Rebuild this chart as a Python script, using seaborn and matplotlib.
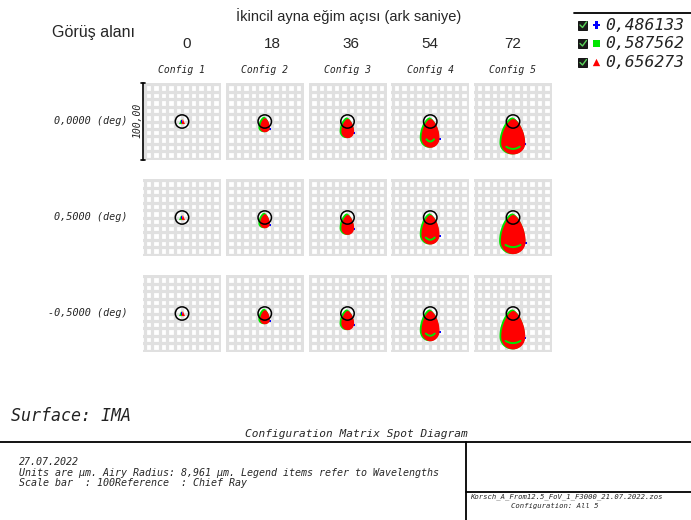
import numpy as np
import pandas as pd
import matplotlib
matplotlib.use("Agg")
import matplotlib.pyplot as plt
import seaborn as sns
from matplotlib.patches import Circle, Rectangle

# ---------------- data ----------------
fields = ["0,0000 (deg)", "0,5000 (deg)", "-0,5000 (deg)"]
tilt_arcsec = ["0", "18", "36", "54", "72"]
configs = ["Config 1", "Config 2", "Config 3", "Config 4", "Config 5"]
wavelengths = ["0,486133", "0,587562", "0,656273"]
wave_colors = ["#0000ff", "#00e600", "#ff0000"]
wave_markers = ["P", "s", "^"]

airy_radius = 8.961      # µm
scale_bar_label = "100,00"

# spot extents (µm, relative to chief ray, y up); rows = fields, cols = configs
spot_top = [[3.5, 5, 4, 4, 4],
            [3.5, 5, 4, 4, 4],
            [3.5, 5, 4, 4, 4]]
spot_waist = [[-1, -8, -13, -22, -29],
              [-1, -8, -14, -23, -32],
              [-1, -8, -13, -23, -31]]
spot_bottom = [[-4, -14, -22, -35, -44],
               [-4, -14, -23, -36, -49],
               [-4, -14, -22, -37, -48]]
spot_halfwidth = [[4, 6.5, 8.5, 12, 16],
                  [4, 6.5, 8.5, 12, 16.5],
                  [4, 6.5, 8.5, 12, 16]]
caustic_y = [[np.nan, np.nan, np.nan, -27, -37],
             [np.nan, np.nan, np.nan, -30, -40],
             [np.nan, np.nan, np.nan, -30, -40]]
caustic_w = [[0, 0, 0, 5, 9],
             [0, 0, 0, 6, 10],
             [0, 0, 0, 6, 10]]

# ---------------- style ----------------
sns.set_style("white")
plt.rcParams["font.family"] = ["DejaVu Sans"]
MONO = "DejaVu Sans Mono"
SANS = "Liberation Sans"

W, H = 691, 520
fig = plt.figure(figsize=(W / 100, H / 100), dpi=100)
fig.patch.set_facecolor("white")


def rect(x, y, w, h):
    return [x / W, 1 - (y + h) / H, w / W, h / H]


def teardrop(top, waist, bottom, w, n=60):
    yu = np.linspace(top, waist, n)
    wu = w * np.sin(np.pi / 2 * (top - yu) / (top - waist)) ** 0.6
    yl = np.linspace(waist, bottom, n)[1:]
    wl = w * np.sqrt(np.clip(1 - ((waist - yl) / (waist - bottom)) ** 2, 0, 1))
    y = np.concatenate([yu, yl])
    ww = np.concatenate([wu, wl])
    return np.concatenate([ww, -ww[::-1]]), np.concatenate([y, y[::-1]])


# overlay axes in pixel coordinates
ax0 = fig.add_axes([0, 0, 1, 1])
ax0.set_xlim(0, W)
ax0.set_ylim(H, 0)
ax0.axis("off")

cell_w, cell_h = 78, 77
col_left = 143
col_step = 82.75
row_top = 83
row_step = 96

for r in range(len(fields)):
    for c in range(len(configs)):
        ax = fig.add_axes(rect(col_left + c * col_step, row_top + r * row_step, cell_w, cell_h))
        ax.set_xlim(-52, 52)
        ax.set_ylim(-52, 52)
        ticks = np.arange(-50, 51, 10)
        ax.set_xticks(ticks)
        ax.set_yticks(ticks)
        ax.grid(True, color="#e0e0e0", linewidth=2.3)
        ax.set_axisbelow(True)
        ax.tick_params(length=0, labelbottom=False, labelleft=False)
        for s in ax.spines.values():
            s.set_visible(False)
        ax.set_facecolor("white")

        t, wa, b, hw = spot_top[r][c], spot_waist[r][c], spot_bottom[r][c], spot_halfwidth[r][c]
        if c == 0:
            ax.fill([-4.0, 0.0, -1.0], [-3.5, -3.5, 3.5], color=wave_colors[1], lw=0, zorder=2)
            ax.fill([-1.5, 0.5, 0.5, -1.5], [-2.5, -2.5, 2.0, 2.0], color=wave_colors[0],
                    lw=0, zorder=3)
            ax.fill([-0.5, 4.0, 1.0], [-3.5, -3.5, 3.5], color=wave_colors[2], lw=0, zorder=4)
        else:
            gx, gy = teardrop(t + 1.5, wa, b - 0.5, hw + 0.9)
            ax.fill(gx - 1.1, gy, color=wave_colors[1], lw=0, zorder=2)
            rx, ry = teardrop(t, wa, b, hw)
            ax.fill(rx + 0.3, ry - 0.5, color=wave_colors[2], lw=0, zorder=3)
            sns.scatterplot(x=[hw + 0.6], y=[wa - 2], color=wave_colors[0], marker="s",
                            s=3, linewidth=0, ax=ax, zorder=2, legend=False)
        cy = caustic_y[r][c]
        if not np.isnan(cy):
            cw = caustic_w[r][c]
            xs = np.linspace(-cw, cw, 30)
            ax.plot(xs, cy + 3 * (xs / cw) ** 2, color=wave_colors[1], lw=1.4, zorder=4)
        ax.add_patch(Circle((0, 0), airy_radius, fill=False, ec="black", lw=1.1, zorder=6))
        ax.set_xlabel("")
        ax.set_ylabel("")

        if r == 0 and c == 0:
            ax.plot([-52, -52], [-52, 52], color="black", lw=1.2, clip_on=False, zorder=7)
            ax.plot([-54, -50], [52, 52], color="black", lw=1.2, clip_on=False, zorder=7)
            ax.plot([-54, -50], [-52, -52], color="black", lw=1.2, clip_on=False, zorder=7)
            ax.text(-59, 2, scale_bar_label, rotation=90, ha="center", va="center",
                    family=MONO, style="italic", fontsize=7, clip_on=False)

# headers
ax0.text(52, 32, "Görüş alanı", family=SANS, fontsize=11.5, ha="left", va="center")
ax0.text(349, 16, "İkincil ayna eğim açısı (ark saniye)", family=SANS, fontsize=10.5,
         ha="center", va="center")
num_x = [187, 272, 351, 430, 513]
for c, lab in enumerate(tilt_arcsec):
    ax0.text(num_x[c], 44, lab, family=SANS, fontsize=11, ha="center", va="center")
for c, lab in enumerate(configs):
    ax0.text(col_left + c * col_step + cell_w / 2, 70, lab, family=MONO, style="italic",
             fontsize=7, ha="center", va="center")
for r, lab in enumerate(fields):
    ax0.text(128, row_top + r * row_step + 38, lab, family=MONO, style="italic",
             fontsize=7.3, ha="right", va="center")

# legend
ax0.plot([574, 691], [13, 13], color="black", lw=1.3)
leg_y = [25, 43.5, 62.5]
for i, wl in enumerate(wavelengths):
    y = leg_y[i]
    ax0.add_patch(Rectangle((578, y - 4.5), 9, 9, facecolor="#1a1a1a", edgecolor="black", lw=0.6))
    ax0.plot([580, 582.5, 586.5], [y, y + 2.5, y - 3], color="#5bd35b", lw=1.0)
    ax0.text(605, y, wl, family=MONO, style="italic", fontsize=11.8, ha="left", va="center",
             color="#222222")
leg_df = pd.DataFrame({"x": [596.5] * 3, "y": leg_y, "wl": wavelengths})
sns.scatterplot(data=leg_df, x="x", y="y", hue="wl", style="wl",
                palette=dict(zip(wavelengths, wave_colors)),
                markers=dict(zip(wavelengths, wave_markers)),
                s=[28, 22, 28], linewidth=0, legend=False, ax=ax0)
ax0.set_xlim(0, W)
ax0.set_ylim(H, 0)
ax0.axis("off")

# footer
ax0.text(11, 416, "Surface: IMA", family=MONO, style="italic", fontsize=12, ha="left",
         va="center", color="#222222")
ax0.text(356, 434, "Configuration Matrix Spot Diagram", family=MONO, style="italic",
         fontsize=8, ha="center", va="center")
ax0.plot([0, 691], [441.5, 441.5], color="black", lw=1.3)
ax0.plot([466, 466], [441.5, 520], color="black", lw=1.3)
ax0.plot([466, 691], [491.5, 491.5], color="black", lw=1.3)
ax0.text(19, 462, "27.07.2022", family=MONO, style="italic", fontsize=7.2, ha="left", va="center")
ax0.text(19, 473.5, "Units are µm. Airy Radius: 8,961 µm. Legend items refer to Wavelengths",
         family=MONO, style="italic", fontsize=7.2, ha="left", va="center")
ax0.text(19, 482.5, "Scale bar  : 100Reference  : Chief Ray", family=MONO, style="italic",
         fontsize=7.2, ha="left", va="center")
ax0.text(470, 497, "Korsch_A_From12.5_FoV_1_F3000_21.07.2022.zos", family=MONO, style="italic",
         fontsize=5.2, ha="left", va="center")
ax0.text(555, 506, "Configuration: All 5", family=MONO, style="italic", fontsize=5.2,
         ha="center", va="center")

fig.savefig("out.png", dpi=100, facecolor="white")
